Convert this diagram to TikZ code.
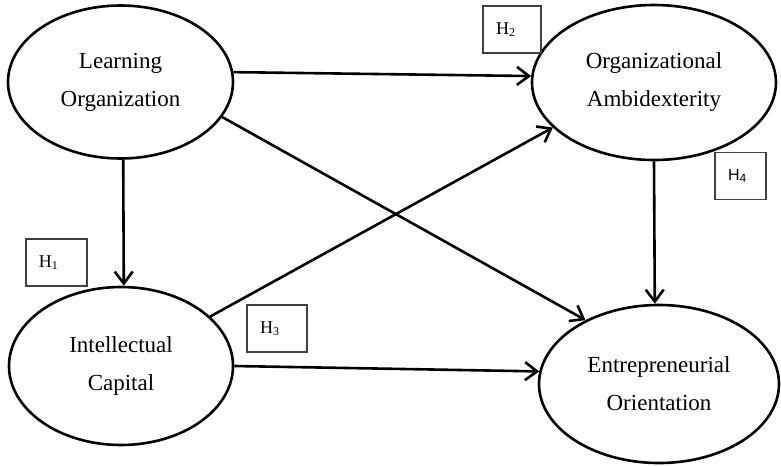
\documentclass[tikz,border=0pt]{standalone}
\usepackage{fontspec}
\setmainfont{Liberation Serif}
\newfontfamily\hsans{Liberation Sans}
\usetikzlibrary{shapes.geometric, arrows.meta, positioning}
\tikzset{
  arrow/.style={-{Straight Barb[length=6pt, width=9pt, line width=1.3pt]}, line width=1.3pt},
  hyp/.style={
    draw=black!75, line width=0.6pt, minimum height=23.5pt,
    text width=#1, inner xsep=6.5pt, align=left,
    font=\fontsize{9}{10}\selectfont
  },
  hyp/.default=16pt
}

\begin{document}
\begin{tikzpicture}[x=0.5pt, y=-0.5pt,
  construct/.style={ellipse, draw, line width=1.3pt, inner sep=0pt, align=center, font=\fontsize{11.5}{19}\selectfont}
]
\useasboundingbox (0,0) rectangle (781,466);

%% constructs
\node[construct, minimum width=112.5pt, minimum height=76.5pt] (lo) at (120.5,82) {Learning\\Organization};
\node[construct, minimum width=122pt, minimum height=77.5pt] (oa) at (654,82.5) {Organizational\\Ambidexterity};
\node[construct, minimum width=112pt, minimum height=79pt] (ic) at (121,366) {Intellectual\\Capital};
\node[construct, minimum width=120pt, minimum height=79pt] (eo) at (659,384) {Entrepreneurial\\Orientation};

%% hypotheses
\node[hyp=17.5pt] (h1) at (56.5,262.5) {H\textsubscript{1}};
\node[hyp=16pt] (h2) at (512,29.5) {H\textsubscript{2}};
\node[hyp=17pt] (h3) at (277,328.5) {H\textsubscript{3}};
\node[hyp=12.5pt, font=\hsans\fontsize{8}{9}\selectfont] (h4) at (740.5,176) {H\textsubscript{4}};

%% paths
\draw[arrow] (lo.5) -- (oa.177);
\draw[arrow] (lo.-19) -- (eo.139);
\draw[arrow] (lo.272) -- (ic.88);
\draw[arrow] (ic.29) -- (oa.204);
\draw[arrow] (ic.east) -- (eo.174);
\draw[arrow] (oa.south) -- (eo.93);

\end{tikzpicture}
\end{document}
